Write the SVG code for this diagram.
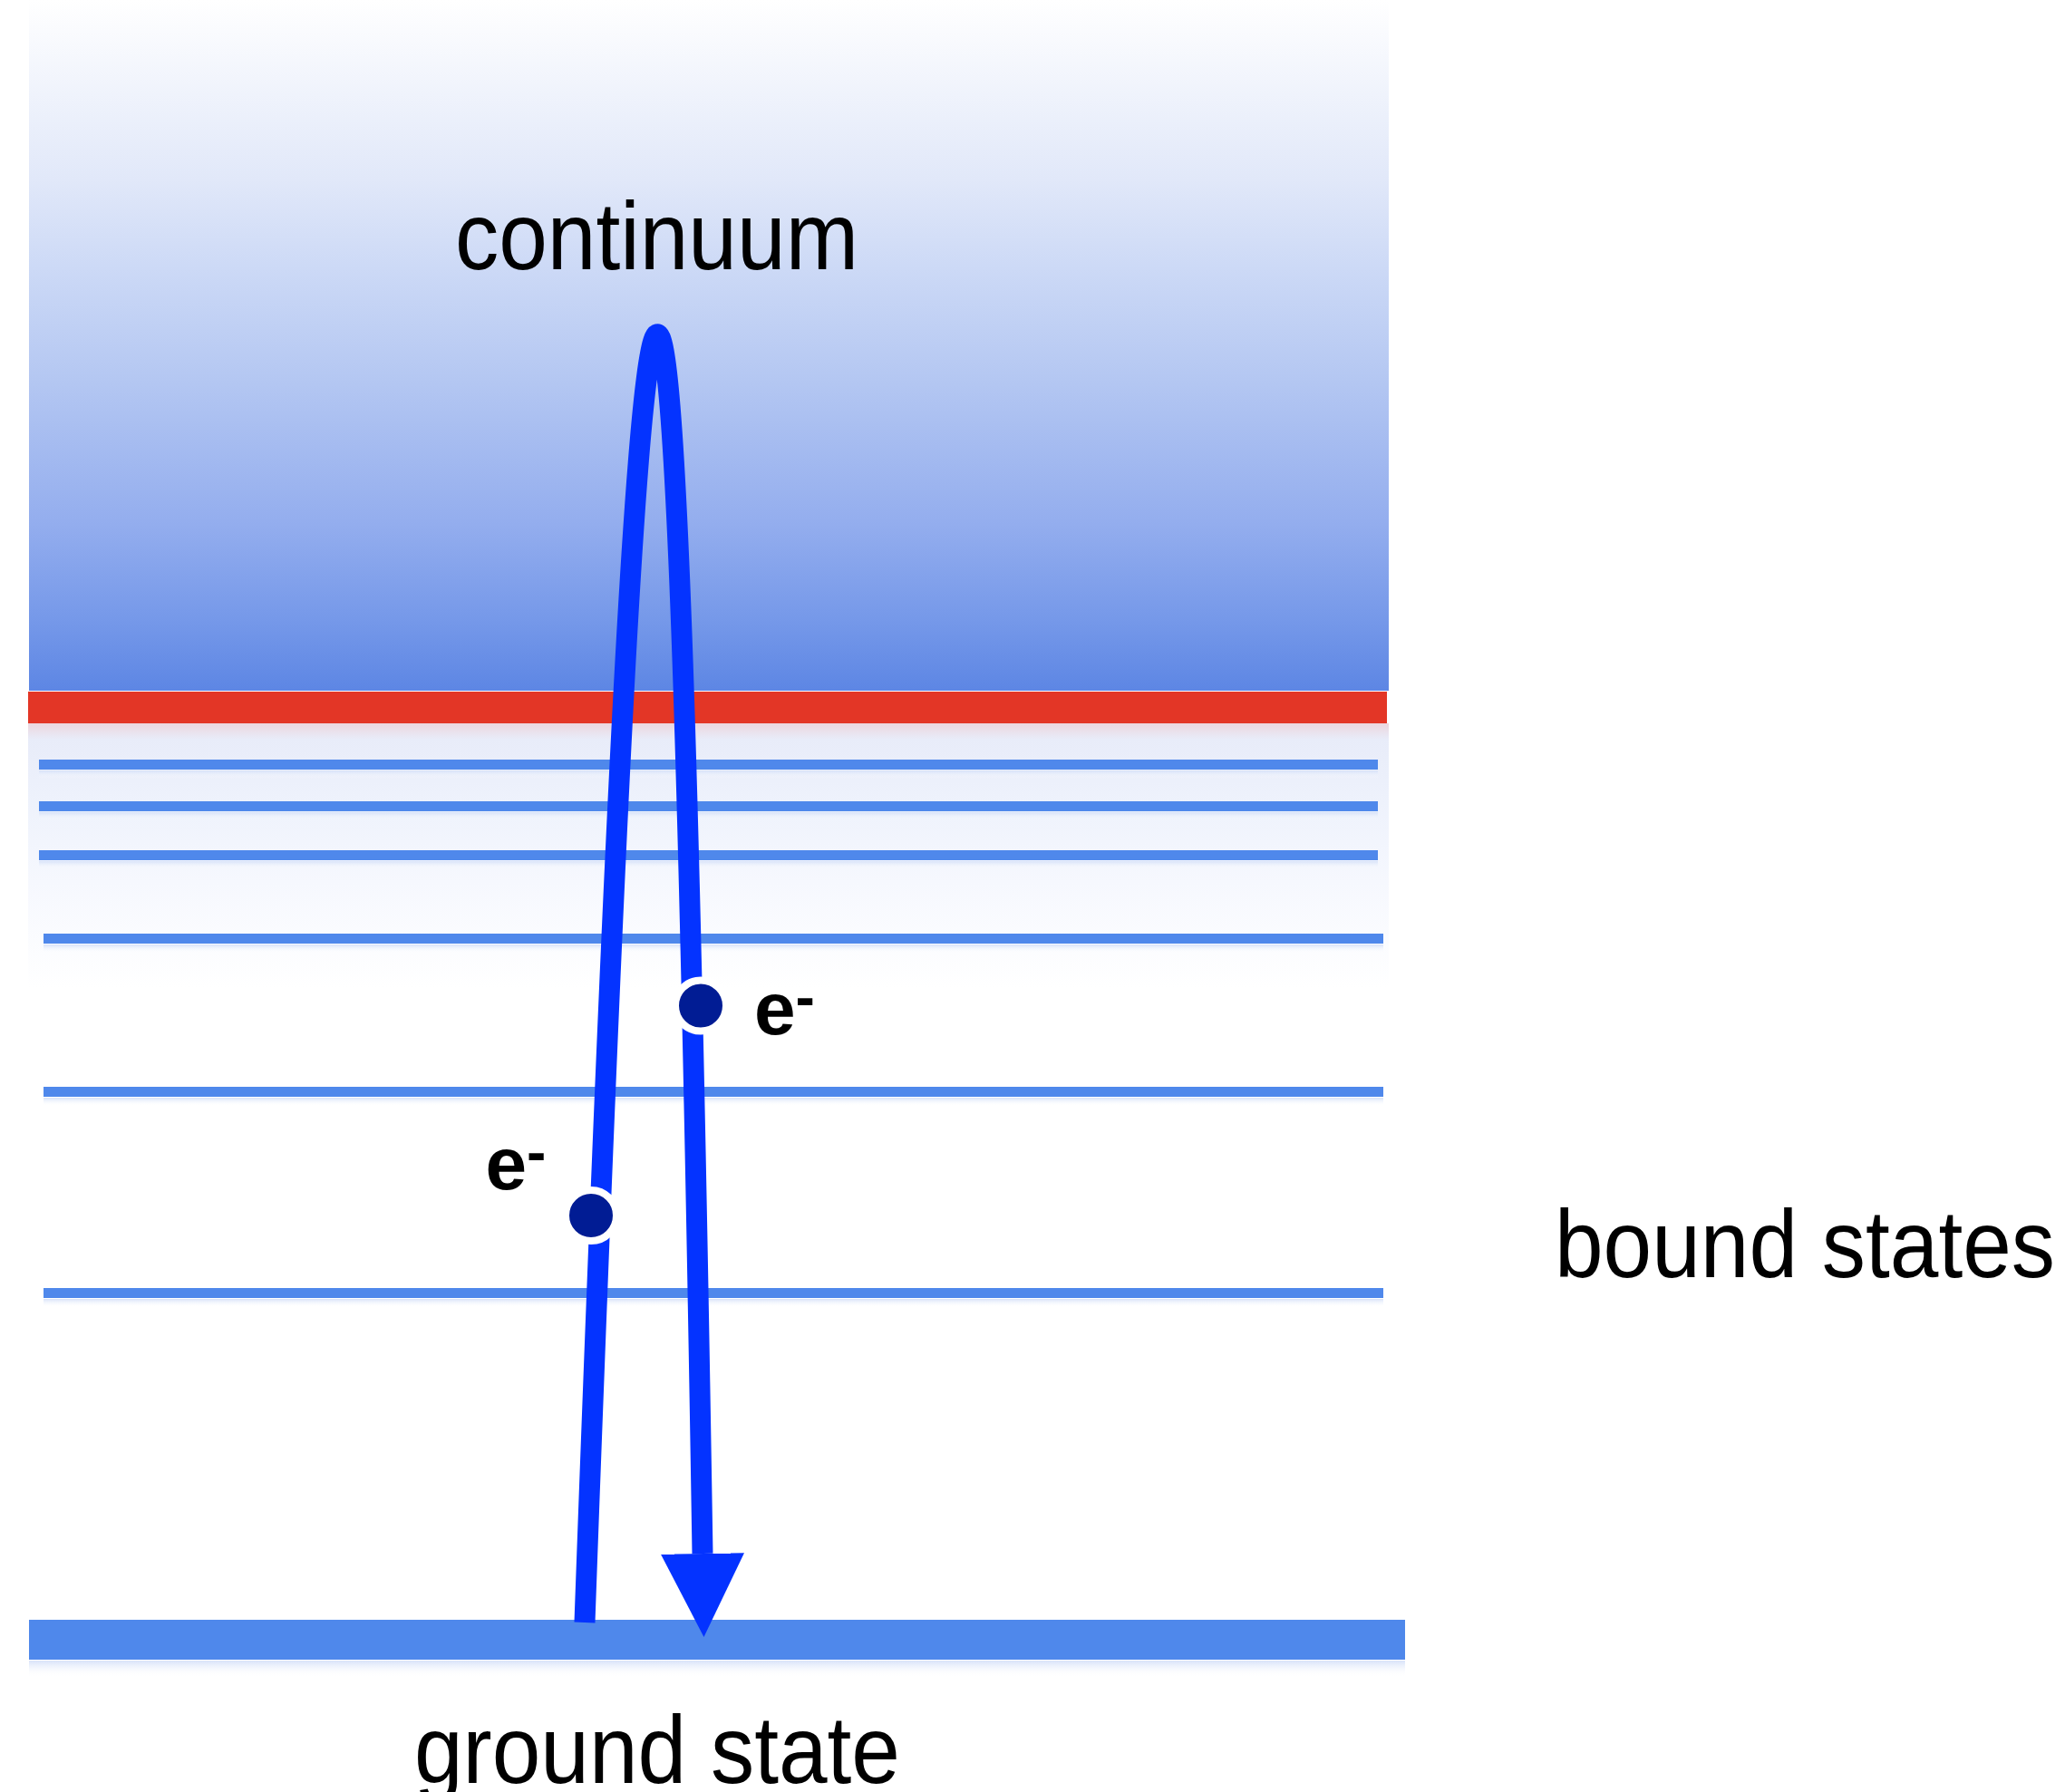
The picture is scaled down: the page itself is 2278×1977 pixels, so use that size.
<svg xmlns="http://www.w3.org/2000/svg" width="2278" height="1977" viewBox="0 0 2278 1977">
  <defs>
    <linearGradient id="contGrad" x1="0" y1="0" x2="0" y2="1">
      <stop offset="0" stop-color="#ffffff"/>
      <stop offset="0.26" stop-color="#e1e8f9"/>
      <stop offset="0.39" stop-color="#ccd9f6"/>
      <stop offset="0.55" stop-color="#b4c7f2"/>
      <stop offset="0.76" stop-color="#93adee"/>
      <stop offset="0.9" stop-color="#7598e9"/>
      <stop offset="1" stop-color="#5d86e4"/>
    </linearGradient>
    <linearGradient id="glowGrad" x1="0" y1="0" x2="0" y2="1">
      <stop offset="0" stop-color="#ecd6de"/>
      <stop offset="0.06" stop-color="#e8ecf9"/>
      <stop offset="0.3" stop-color="#eef2fc"/>
      <stop offset="0.6" stop-color="#f6f8fe"/>
      <stop offset="1" stop-color="#ffffff"/>
    </linearGradient>
    <linearGradient id="reflGrad" x1="0" y1="0" x2="0" y2="1">
      <stop offset="0" stop-color="#d3dff8" stop-opacity="0.9"/>
      <stop offset="1" stop-color="#ffffff" stop-opacity="0"/>
    </linearGradient>
    <marker id="head" viewBox="0 0 92 92" refX="0" refY="46" markerWidth="92" markerHeight="92" markerUnits="userSpaceOnUse" orient="auto">
      <path d="M0,0 L92,46 L0,92 z" fill="#0433ff"/>
    </marker>
    <style>
      .lvl { fill: #4f88eb; }
      .refl { fill: url(#reflGrad); }
      .lbl { font-family: "Liberation Sans", Arial, sans-serif; font-size: 106px; fill: #000; text-anchor: middle; }
      .el { font-family: "Liberation Sans", Arial, sans-serif; font-weight: bold; font-size: 82px; fill: #000; }
      .dot { fill: #011c94; stroke: #ffffff; stroke-width: 8; }
      .path { fill: none; stroke: #0433ff; stroke-width: 23; stroke-linecap: butt; }
    </style>
  </defs>

  <rect width="2278" height="1977" fill="#ffffff"/>

  <g id="continuum">
    <rect x="32" y="0" width="1500" height="762" fill="url(#contGrad)"/>
    <text class="lbl" x="724.5" y="297" font-size="100" textLength="445" lengthAdjust="spacingAndGlyphs">continuum</text>
  </g>

  <g id="threshold">
    <rect x="31" y="798" width="1501" height="292" fill="url(#glowGrad)"/>
    <rect x="31" y="763" width="1499" height="35" fill="#e33626"/>
  </g>

  <g id="bound-states">
    <rect class="refl" x="43" y="850" width="1477" height="9"/>
    <rect class="lvl" x="43" y="838" width="1477" height="11"/>
    <rect class="refl" x="43" y="896" width="1477" height="9"/>
    <rect class="lvl" x="43" y="884" width="1477" height="11"/>
    <rect class="refl" x="43" y="950" width="1477" height="9"/>
    <rect class="lvl" x="43" y="938" width="1477" height="11"/>
    <rect class="refl" x="48" y="1042" width="1478" height="9"/>
    <rect class="lvl" x="48" y="1030" width="1478" height="11"/>
    <rect class="refl" x="48" y="1211" width="1478" height="9"/>
    <rect class="lvl" x="48" y="1199" width="1478" height="11"/>
    <rect class="refl" x="48" y="1433" width="1478" height="9"/>
    <rect class="lvl" x="48" y="1421" width="1478" height="11"/>
    <text class="lbl" x="1991" y="1409" textLength="552" lengthAdjust="spacingAndGlyphs">bound states</text>
  </g>

  <g id="ground-state">
    <rect class="refl" x="32" y="1832" width="1518" height="18"/>
    <rect class="lvl" x="32" y="1787" width="1518" height="44"/>
    <text class="lbl" x="725" y="1967" textLength="536" lengthAdjust="spacingAndGlyphs">ground state</text>
  </g>

  <g id="connectors">
    <path class="path" d="M645,1790 C713,-92 746,-92 775,1714" marker-end="url(#head)"/>
  </g>

  <g id="electron-up">
    <circle class="dot" cx="652" cy="1341" r="28"/>
    <text class="el" x="535.5" y="1312">e<tspan font-size="64" dy="-19">-</tspan></text>
  </g>

  <g id="electron-down">
    <circle class="dot" cx="773" cy="1109.5" r="28"/>
    <text class="el" x="832" y="1141">e<tspan font-size="64" dy="-19">-</tspan></text>
  </g>
</svg>
